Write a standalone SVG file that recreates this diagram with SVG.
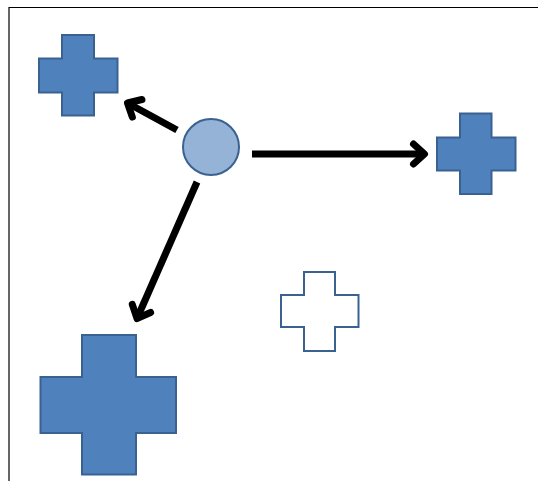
<svg xmlns="http://www.w3.org/2000/svg" width="538" height="481" viewBox="0 0 538 481">
  <style>
    .cross { fill: #4F81BD; stroke: #3A6291; stroke-width: 2; }
    .cross.hollow { fill: #FFFFFF; }
    .conn { stroke: #000000; stroke-width: 7; fill: none; }
  </style>
  <defs>
    <marker id="openArrow" markerUnits="userSpaceOnUse" viewBox="-20 -16 26 32" markerWidth="26" markerHeight="32" refX="0" refY="0" orient="auto" overflow="visible">
      <path d="M -11 -10 L 0 0 L -11 10" fill="none" stroke="#000000" stroke-width="7" stroke-linecap="round" stroke-linejoin="round"/>
    </marker>
  </defs>

  <rect width="538" height="481" fill="#FFFFFF"/>
  <!-- frame edges -->
  <path d="M 9 481 L 9 7.5 L 538 7.5" fill="none" stroke="#000000" stroke-width="1.2"/>

  <g id="connectors">
    <line class="conn" x1="177" y1="130" x2="127.5" y2="103" marker-end="url(#openArrow)"/>
    <line class="conn" x1="252" y1="154" x2="424.5" y2="154" marker-end="url(#openArrow)"/>
    <line class="conn" x1="197" y1="182" x2="137" y2="318.5" marker-end="url(#openArrow)"/>
  </g>

  <g id="source">
    <circle cx="211" cy="147" r="28" fill="#95B3D7" stroke="#3A6291" stroke-width="2"/>
  </g>

  <g id="cross-top-left">
    <path class="cross" d="M 62 35 H 94 V 58.5 H 117.5 V 92.5 H 94 V 115.5 H 62 V 92.5 H 39 V 58.5 H 62 Z"/>
  </g>

  <g id="cross-right">
    <path class="cross" d="M 460 113.5 H 491.5 V 137.5 H 515.5 V 170.5 H 491.5 V 194 H 460 V 170.5 H 437 V 137.5 H 460 Z"/>
  </g>

  <g id="cross-bottom-left">
    <path class="cross" d="M 82 335 H 136 V 377 H 176 V 433 H 136 V 474.5 H 82 V 433 H 40.5 V 377 H 82 Z"/>
  </g>

  <g id="cross-hollow">
    <path class="cross hollow" d="M 304 272 H 335 V 295 H 358.5 V 327 H 335 V 351 H 304 V 327 H 281 V 295 H 304 Z"/>
  </g>
</svg>
